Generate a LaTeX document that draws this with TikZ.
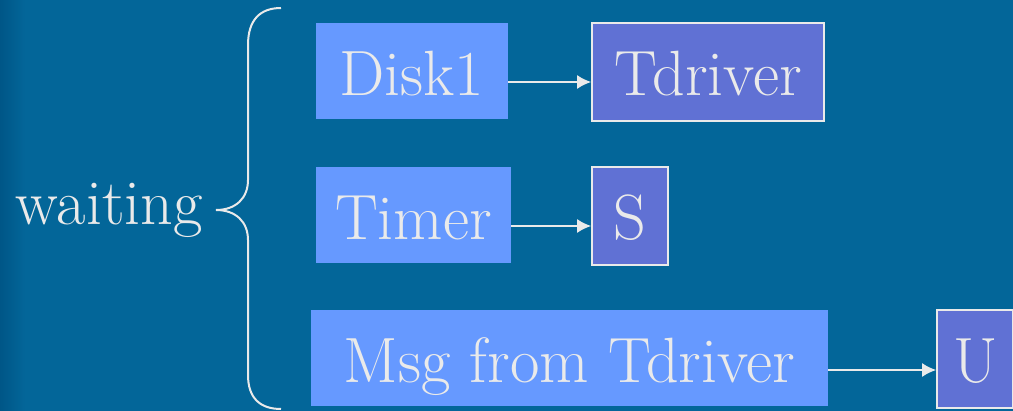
\documentclass[tikz,border=0pt]{standalone}
\usetikzlibrary{arrows.meta, positioning}

\definecolor{slidebg}{RGB}{3,102,153}
\definecolor{slideedge}{RGB}{0,86,135}
\definecolor{lightbox}{RGB}{102,153,255}
\definecolor{darkbox}{RGB}{96,113,212}
\definecolor{ink}{RGB}{234,234,234}

\begin{document}
\begin{tikzpicture}[x=1pt,y=-1pt,>={Latex[length=14pt,width=14pt]},
	every node/.style={font=\rmfamily\fontsize{64}{76}\selectfont,text=ink,inner sep=0pt},
	evt/.style={fill=lightbox,text height=73pt,text depth=23pt},
	proc/.style={fill=darkbox,draw=ink,line width=2pt,text height=73pt,text depth=25pt},
	arr/.style={->,draw=ink,line width=2pt}]
	\useasboundingbox (0,0) rectangle (1013,411);
	\fill[slidebg] (0,0) rectangle (1013,411);
	\shade[left color=slideedge,right color=slidebg] (0,0) rectangle (25,411);
	
	\node[evt,minimum width=192pt,anchor=base] (disk) at (412,96) {Disk1};
	\node[evt,minimum width=195pt,anchor=base] (timer) at (413.5,240) {Timer};
	\node[evt,minimum width=517pt,anchor=base] (msg) at (569.5,383) {Msg from Tdriver};
	
	\node[proc,minimum width=232pt] (tdrv) [base right=83pt of disk] {Tdriver};
	\node[proc,minimum width=76pt] (s) [base right=80pt of timer] {S};
	\node[proc,minimum width=76pt] (u) [base right=108pt of msg] {U};
	
	\draw[arr] ([yshift=14pt]disk.base east) -- ([yshift=14pt]tdrv.base west);
	\draw[arr] ([yshift=14pt]timer.base east) -- ([yshift=14pt]s.base west);
	\draw[arr] ([yshift=13pt]msg.base east) -- ([yshift=13pt]u.base west);
	
	% brace
	\coordinate (tip) at (216,210);
	\draw[ink,line width=2pt] (281,8) .. controls (260,8) and (248,20) .. (248,45)
		-- (248,180) .. controls (248,198) and (236,210) .. (tip)
		.. controls (236,210) and (248,222) .. (248,240)
		-- (248,375) .. controls (248,398) and (260,409) .. (281,409);
	\node[anchor=base east] (wait) at (203,225) {waiting};
\end{tikzpicture}
\end{document}
